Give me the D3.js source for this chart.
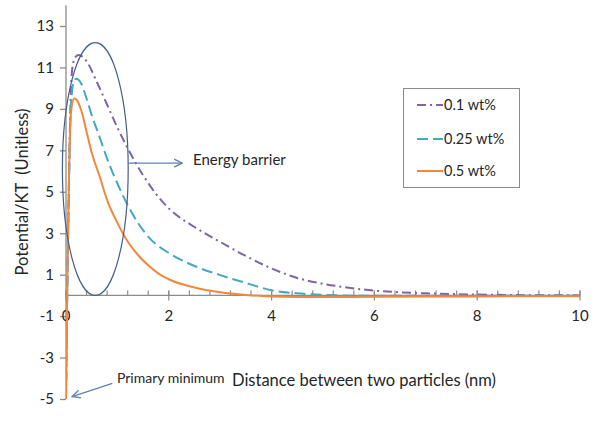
<!DOCTYPE html>
<html><head><meta charset="utf-8">
<script src="https://cdn.jsdelivr.net/npm/d3@7"></script>
<style>body{margin:0;background:#fff}svg{display:block}text{font-family:Lato,"Open Sans",sans-serif;fill:#262626}</style>
</head><body><svg id="c" width="602" height="423"></svg>
<script>
const seriesNames = ["0.1 wt%", "0.25 wt%", "0.5 wt%"];
const xPurple = [0, 0.02, 0.05, 0.08, 0.12, 0.18, 0.25, 0.4, 0.6, 0.8, 1.0, 1.2, 1.5, 1.75, 2.0, 2.5, 3.0, 3.5, 4.0, 4.5, 5.0, 5.5, 6.0, 6.5, 7.0, 8.0, 9.0, 10.0];
const yPurple = [-5, -0.5, 4.5, 8.5, 10.9, 11.5, 11.6, 11.3, 10.3, 9.2, 8.1, 7.1, 5.8, 4.9, 4.2, 3.3, 2.58, 1.9, 1.3, 0.84, 0.56, 0.37, 0.23, 0.15, 0.1, 0.04, 0.01, 0];
const xTeal = [0, 0.02, 0.05, 0.08, 0.12, 0.16, 0.2, 0.3, 0.4, 0.5, 0.66, 0.8, 1.0, 1.15, 1.4, 1.63, 2.0, 2.5, 3.0, 3.5, 4.0, 4.5, 5.0, 6.0, 8.0, 10.0];
const yTeal = [-5, -0.8, 4, 8, 9.9, 10.4, 10.45, 10.2, 9.5, 8.7, 7.6, 6.6, 5.4, 4.6, 3.5, 2.75, 2.05, 1.42, 0.98, 0.6, 0.25, 0.1, 0.03, -0.02, -0.02, -0.01];
const xOrange = [0, 0.01, 0.02, 0.04, 0.06, 0.08, 0.11, 0.16, 0.2, 0.3, 0.4, 0.5, 0.66, 0.8, 1.0, 1.2, 1.4, 1.6, 1.8, 2.0, 2.5, 3.0, 3.5, 4.0, 5.0, 6.0, 8.0, 10.0];
const yOrange = [-5, -3, -0.5, 3, 6, 8, 9.1, 9.5, 9.45, 8.9, 7.9, 6.9, 5.7, 4.6, 3.5, 2.6, 1.95, 1.45, 1.05, 0.78, 0.38, 0.15, 0.02, -0.05, -0.08, -0.07, -0.05, -0.04];
const xTicks = [0, 2, 4, 6, 8, 10];
const yTicks = [-5, -3, -1, 1, 3, 5, 7, 9, 11, 13];

const colors = ["#7f64a6", "#43a8c4", "#f0883e"];
const dashes = ["9,4,2,4", "11,5", null];

const svg = d3.select("#c");
const x = d3.scaleLinear().domain([0, 10]).range([66, 580]);
const y = d3.scaleLinear().domain([-5, 13]).range([399, 26]);

// y axis
const gy = svg.append("g").attr("transform", `translate(${x(0)},0)`)
  .call(d3.axisLeft(y).tickValues(yTicks).tickSize(6).tickPadding(6).tickFormat(d => String(d)));
gy.select(".domain").attr("d", `M0,${y(14)}V${y(-5)}`);
gy.selectAll("path,line").attr("stroke", "#8c8c8c").attr("stroke-width", 1.3);
gy.selectAll("text").attr("font-size", 15).style("font-family", "Lato,sans-serif").attr("fill", "#262626");

// x axis at y=0
const gx = svg.append("g").attr("transform", `translate(0,${y(0)})`);
gx.append("path").attr("d", `M${x(0)},0H${x(10)}`).attr("stroke", "#8c8c8c").attr("stroke-width", 1.3);
const minor = d3.range(0, 10.001, 0.4);
gx.selectAll("line.mi").data(minor).join("line").attr("x1", d => x(d)).attr("x2", d => x(d))
  .attr("y1", -5).attr("y2", 0).attr("stroke", "#8c8c8c").attr("stroke-width", 1.2);
gx.selectAll("line.ma").data(xTicks).join("line").attr("x1", d => x(d)).attr("x2", d => x(d))
  .attr("y1", -5).attr("y2", 5).attr("stroke", "#8c8c8c").attr("stroke-width", 1.2);
gx.selectAll("text").data(xTicks).join("text").attr("x", d => x(d)).attr("y", y(-1) - y(0) + 5)
  .attr("text-anchor", "middle").attr("font-size", 15).text(d => d);

// curves
const xs = [xPurple, xTeal, xOrange], ys = [yPurple, yTeal, yOrange];
const line = d3.line().x(d => x(d[0])).y(d => y(d[1])).curve(d3.curveMonotoneX);
svg.append("clipPath").attr("id", "cp").append("rect").attr("x", x(0)).attr("y", y(14)).attr("width", x(10) - x(0) + 2).attr("height", y(-5) - y(14));
[0, 1, 2].forEach(i => {
  const pts = xs[i].map((v, j) => [v, ys[i][j]]);
  svg.append("path").attr("d", line(pts)).attr("fill", "none").attr("stroke", colors[i])
    .attr("stroke-width", 2).attr("stroke-dasharray", dashes[i]).attr("clip-path", "url(#cp)");
});

// ellipse
const ell = {cx: 0.57, cy: 6.1, rx: 0.64, ry: 6.1};
svg.append("ellipse").attr("cx", x(ell.cx)).attr("cy", y(ell.cy)).attr("rx", x(ell.rx) - x(0)).attr("ry", y(0) - y(ell.ry))
  .attr("fill", "none").attr("stroke", "#425f87").attr("stroke-width", 1.2);

// arrows
const defs = svg.append("defs");
defs.append("marker").attr("id", "ah").attr("viewBox", "0 0 10 10").attr("refX", 9).attr("refY", 5)
  .attr("markerWidth", 10).attr("markerHeight", 10).attr("markerUnits", "userSpaceOnUse").attr("orient", "auto")
  .append("path").attr("d", "M1,1L9,5L1,9").attr("fill", "none").attr("stroke", "#5b82b9").attr("stroke-width", 1.3);
const arrows = [{x1: 1.21, y1: 6.38, x2: 2.26, y2: 6.38}, {x1: 0.9, y1: -4.25, x2: 0.12, y2: -4.88}];
arrows.forEach(a => svg.append("line").attr("x1", x(a.x1)).attr("y1", y(a.y1)).attr("x2", x(a.x2)).attr("y2", y(a.y2))
  .attr("stroke", "#5b82b9").attr("stroke-width", 1.3).attr("marker-end", "url(#ah)"));
svg.append("text").attr("x", 193).attr("y", 165).attr("font-size", 15).text("Energy barrier");
svg.append("text").attr("x", 117).attr("y", 383).attr("font-size", 14).text("Primary minimum");

// axis titles
svg.append("text").attr("x", 364).attr("y", 386).attr("text-anchor", "middle").attr("font-size", 16.5).text("Distance between two particles (nm)");
svg.append("text").attr("transform", "translate(28,192) rotate(-90)").attr("text-anchor", "middle").attr("font-size", 16.5)
  .style("white-space", "pre").text("Potential/KT  (Unitless)");

// legend
const lg = svg.append("g");
lg.append("rect").attr("x", 403.5).attr("y", 88.5).attr("width", 116).attr("height", 99).attr("fill", "#fff").attr("stroke", "#8c8c8c");
const ly = [105, 139, 171];
seriesNames.forEach((n, i) => {
  lg.append("line").attr("x1", 417).attr("x2", 443).attr("y1", ly[i]).attr("y2", ly[i]).attr("stroke", colors[i])
    .attr("stroke-width", 2).attr("stroke-dasharray", dashes[i]);
  lg.append("text").attr("x", 444).attr("y", ly[i] + 5).attr("font-size", 14.5).text(n);
});
</script></body></html>
